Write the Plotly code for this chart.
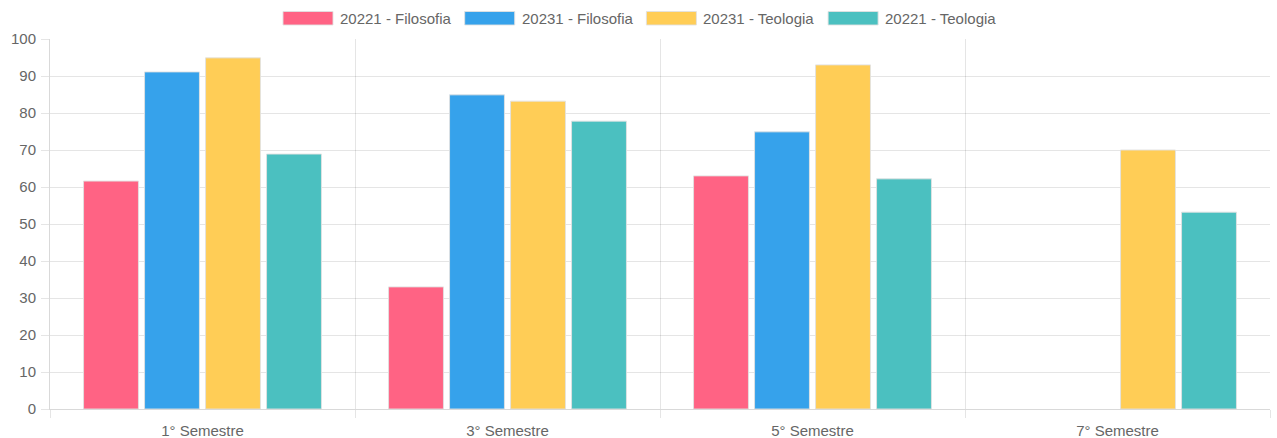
import plotly.graph_objects as go

categories = ["1° Semestre", "3° Semestre", "5° Semestre", "7° Semestre"]
series_names = ["20221 - Filosofia", "20231 - Filosofia", "20231 - Teologia", "20221 - Teologia"]
filosofia_20221 = [61.6, 33.0, 63.0, None]
filosofia_20231 = [91.1, 84.9, 74.9, None]
teologia_20231 = [94.9, 83.2, 93.0, 70.0]
teologia_20221 = [68.9, 77.8, 62.2, 53.2]
series_values = [filosofia_20221, filosofia_20231, teologia_20231, teologia_20221]
colors = ["rgb(255,99,132)", "rgb(54,162,235)", "rgb(255,205,86)", "rgb(75,192,192)"]
y_ticks = [0, 10, 20, 30, 40, 50, 60, 70, 80, 90, 100]

W, H = 1277, 438
ML, MR, MT, MB = 50, 7, 39, 29
PW, PH = W - ML - MR, H - MT - MB

def px_x(p):
    return (p - ML) / PW

def px_y(p):
    return (H - MB - p) / PH

font_family = "Liberation Sans, Arial, Helvetica, sans-serif"
FS = 15
fig = go.Figure()
for name, vals, c in zip(series_names, series_values, colors):
    fig.add_trace(go.Bar(
        x=categories, y=vals, name=name, showlegend=False,
        marker=dict(color=c, line=dict(color="rgba(225,225,225,0.9)", width=1)),
    ))

# Chart.js-style legend: wide colour boxes followed by labels
legend_start, legend_step, box_w, box_top, box_bot = 283, 181.7, 50, 11.5, 25
shapes, annotations = [], []
for i, (name, c) in enumerate(zip(series_names, colors)):
    x0 = legend_start + i * legend_step
    shapes.append(dict(type="rect", xref="paper", yref="paper",
                       x0=px_x(x0), x1=px_x(x0 + box_w), y0=px_y(box_bot), y1=px_y(box_top),
                       fillcolor=c, line=dict(color="rgba(225,225,225,0.9)", width=1)))
    annotations.append(dict(xref="paper", yref="paper", x=px_x(x0 + box_w + 5),
                            y=px_y((box_top + box_bot) / 2), xanchor="left", yanchor="middle",
                            text=name, showarrow=False,
                            font=dict(family=font_family, size=FS, color="#666")))

fig.update_layout(
    width=W, height=H,
    barmode="group", bargap=0.2, bargroupgap=0.1,
    paper_bgcolor="white", plot_bgcolor="white",
    margin=dict(l=ML, r=MR, t=MT, b=MB, autoexpand=False),
    font=dict(family=font_family, size=FS, color="#666"),
    showlegend=False,
    shapes=shapes, annotations=annotations,
    xaxis=dict(tickson="boundaries", showgrid=True, gridcolor="rgba(0,0,0,0.1)",
               showline=True, linecolor="rgba(0,0,0,0.15)", ticks="outside",
               ticklen=8, tickcolor="rgba(0,0,0,0.1)", zeroline=False,
               automargin=False, ticklabelstandoff=8),
    yaxis=dict(range=[0, 100], tickvals=y_ticks, showgrid=True, gridcolor="rgba(0,0,0,0.1)",
               showline=True, linecolor="rgba(0,0,0,0.15)", ticks="outside",
               ticklen=8, tickcolor="rgba(0,0,0,0.1)", zeroline=False,
               automargin=False, ticklabelstandoff=2),
)
fig.write_html("out.html", config={"displayModeBar": False},
               post_script="document.body.style.margin='0';")
